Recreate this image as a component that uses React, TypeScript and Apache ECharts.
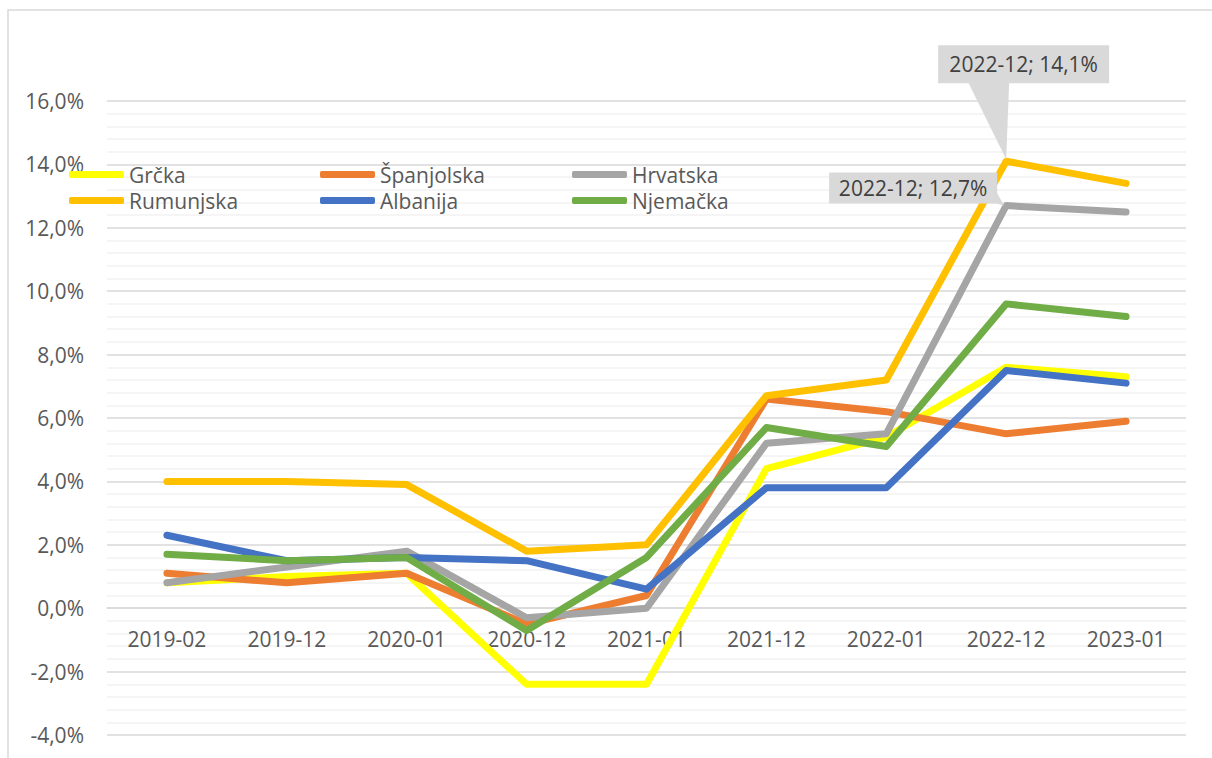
import React, { useEffect, useRef } from "react";
import * as echarts from "echarts";

const categories = ["2019-02", "2019-12", "2020-01", "2020-12", "2021-01", "2021-12", "2022-01", "2022-12", "2023-01"];
const seriesNames = ["Grčka", "Španjolska", "Hrvatska", "Rumunjska", "Albanija", "Njemačka"];
const seriesColors = ["#FFFF00", "#ED7D31", "#A5A5A5", "#FFC000", "#4472C4", "#70AD47"];
const grcka = [0.8, 1.0, 1.1, -2.4, -2.4, 4.4, 5.4, 7.6, 7.3];
const spanjolska = [1.1, 0.8, 1.1, -0.5, 0.4, 6.6, 6.2, 5.5, 5.9];
const hrvatska = [0.8, 1.3, 1.8, -0.3, 0.0, 5.2, 5.5, 12.7, 12.5];
const rumunjska = [4.0, 4.0, 3.9, 1.8, 2.0, 6.7, 7.2, 14.1, 13.4];
const albanija = [2.3, 1.5, 1.6, 1.5, 0.6, 3.8, 3.8, 7.5, 7.1];
const njemacka = [1.7, 1.5, 1.6, -0.7, 1.6, 5.7, 5.1, 9.6, 9.2];
const seriesValues = [grcka, spanjolska, hrvatska, rumunjska, albanija, njemacka];
const yMin = -4;
const yMax = 16;
const yInterval = 2;
// callouts: series index and category
const callouts = [
  { series: 3, category: "2022-12" },
  { series: 2, category: "2022-12" },
];

const FONT = "'Open Sans', sans-serif";
const fmtPct = (v: number) => v.toFixed(1).replace(".", ",") + "%";

const W = 1212;
const H = 758;
const GRID = { left: 107, right: 26, top: 101, bottom: 23 };

export default function App() {
  const ref = useRef<HTMLDivElement>(null);
  useEffect(() => {
    if (!ref.current) return;
    const chart = echarts.init(ref.current, undefined, { renderer: "svg" });
    const legendCols = [
      [seriesNames[0], seriesNames[3]],
      [seriesNames[1], seriesNames[4]],
      [seriesNames[2], seriesNames[5]],
    ];
    const legendLefts = [69, 320, 572];
    const gridH = H - GRID.top - GRID.bottom;
    const zeroOffset = -(gridH * (0 - yMin)) / (yMax - yMin);
    chart.setOption({
      animation: false,
      backgroundColor: "#ffffff",
      textStyle: { fontFamily: FONT },
      grid: { ...GRID, containLabel: false, outerBoundsMode: "none" },
      legend: legendCols.map((col, i) => ({
        orient: "vertical",
        left: legendLefts[i],
        top: 164,
        padding: 0,
        itemGap: 5,
        itemWidth: 55,
        itemHeight: 7,
        icon: "roundRect",
        data: col,
        selectedMode: false,
        textStyle: { color: "#595959", fontSize: 21, fontFamily: FONT, lineHeight: 21 },
      })),
      xAxis: {
        type: "category",
        data: categories,
        boundaryGap: true,
        position: "bottom",
        offset: zeroOffset,
        axisLine: { show: true, onZero: false, lineStyle: { color: "#d9d9d9", width: 1.5 } },
        axisTick: { show: false },
        axisLabel: { color: "#595959", fontSize: 21, fontFamily: FONT, margin: 20, interval: 0 },
        splitLine: { show: false },
      },
      yAxis: {
        type: "value",
        min: yMin,
        max: yMax,
        interval: yInterval,
        axisLine: { show: false },
        axisTick: { show: false },
        axisLabel: { color: "#595959", fontSize: 21, fontFamily: FONT, margin: 23, formatter: (v: number) => fmtPct(v) },
        splitLine: { show: true, lineStyle: { color: "#d9d9d9", width: 1.5 } },
        minorTick: { show: false, splitNumber: 5 },
        minorSplitLine: { show: true, lineStyle: { color: "#f2f2f2", width: 1.5 } },
      },
      series: seriesNames.map((name, i) => ({
        name,
        type: "line",
        data: seriesValues[i],
        symbol: "none",
        showSymbol: false,
        color: seriesColors[i],
        lineStyle: { width: 7, color: seriesColors[i], cap: "round", join: "round" },
        z: 2 + i,
      })),
    });

    const graphics: any[] = [
      {
        type: "rect",
        shape: { x: 8, y: 10, width: 1230, height: 780 },
        style: { fill: "none", stroke: "#d9d9d9", lineWidth: 1.5 },
        silent: true,
        z: 0,
      },
    ];
    callouts.forEach((c, k) => {
      const idx = categories.indexOf(c.category);
      const val = seriesValues[c.series][idx];
      const p = chart.convertToPixel({ seriesIndex: c.series }, [idx, val]) as number[];
      const px = p[0];
      const py = p[1];
      const text = c.category + "; " + fmtPct(val);
      let box: { x: number; y: number; w: number; h: number };
      let tri: number[][];
      if (k === 0) {
        box = { x: px - 68, y: py - 116, w: 171, h: 38 };
        tri = [[px - 38, py - 79], [px + 3, py - 79], [px, py - 2]];
      } else {
        box = { x: px - 177, y: py - 33, w: 168, h: 31 };
        tri = [[px - 10, py - 14], [px - 10, py - 2], [px - 2, py]];
      }
      graphics.push({
        type: "polygon",
        shape: { points: tri },
        style: { fill: "#d9d9d9" },
        silent: true,
        z: 100,
      });
      graphics.push({
        type: "rect",
        shape: { x: box.x, y: box.y, width: box.w, height: box.h },
        style: { fill: "#d9d9d9" },
        silent: true,
        z: 100,
      });
      graphics.push({
        type: "text",
        x: box.x + box.w / 2,
        y: box.y + box.h / 2,
        style: {
          text,
          fill: "#404040",
          font: "21px " + FONT,
          align: "center",
          verticalAlign: "middle",
        },
        silent: true,
        z: 101,
      });
    });
    chart.setOption({ graphic: graphics });

    return () => chart.dispose();
  }, []);
  return (
    <div
      ref={ref}
      style={{ position: "fixed", left: 0, top: 0, width: W, height: H }}
    />
  );
}
